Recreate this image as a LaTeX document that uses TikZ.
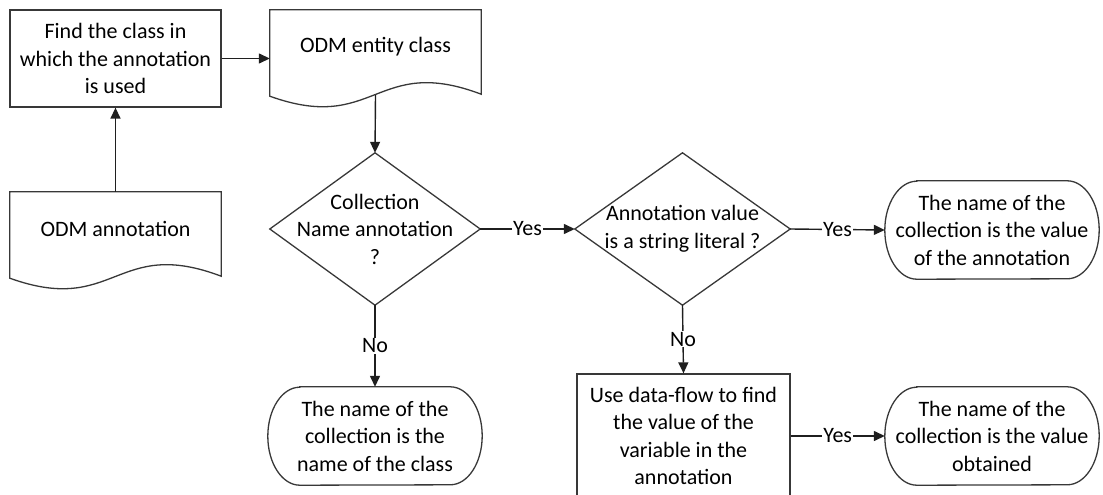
\documentclass[tikz,border=0pt]{standalone}
\usepackage{fontspec}
\setmainfont{Carlito}
\usetikzlibrary{calc,arrows.meta}
\newcommand\drawterm[1]{%
  \draw[shp] ($(#1.north west)+(32,0)$) -- ($(#1.north east)+(-32,0)$)
    arc[start angle=90,end angle=-90,x radius=32pt,y radius=49pt]
    -- ($(#1.south west)+(32,0)$)
    arc[start angle=270,end angle=90,x radius=32pt,y radius=49pt] -- cycle;}
\begin{document}
\begin{tikzpicture}[x=1pt,y=-1pt,
  font=\fontsize{22}{27.5}\selectfont,
  shp/.style={draw=black!78, line width=1.3pt},
  txt/.style={align=center, inner sep=0pt},
  procbox/.style={shp, txt, rectangle},
  area/.style={txt, rectangle},
  termbox/.style={area, minimum width=214pt, minimum height=98pt},
  arr/.style={draw=black!88, line width=1.4pt, -{Triangle[length=11pt,width=10pt]}},
  lbl/.style={fill=white, inner sep=1pt}]
\useasboundingbox (0,0) rectangle (1103,495);

% nodes
\node[procbox, minimum width=211pt, minimum height=97pt] (find) at (115.5,58.5) {Find the class in\\which the annotation\\is used};
\node[area, minimum width=211pt, minimum height=74pt] (ent) at (375.5,47) {ODM entity class};
\node[area, minimum width=211pt, minimum height=74pt] (ann) at (115.5,229) {ODM annotation};
\node[area, minimum width=210pt, minimum height=152pt] (d1) at (375,229) {Collection\\Name annotation\\?};
\node[area, minimum width=215pt, minimum height=152pt] (d2) at (682.5,229) {Annotation value\\is a string literal ?};
\node[termbox] (t1) at (992,230) {The name of the\\collection is the value\\of the annotation};
\node[termbox] (t2) at (375,436) {The name of the\\collection is the\\name of the class};
\node[procbox, minimum width=213pt, minimum height=124pt] (use) at (683.5,436) {Use data-flow to find\\the value of the\\variable in the\\annotation};
\node[termbox] (t3) at (992,436) {The name of the\\collection is the value\\obtained};

% document shapes
\draw[shp] (ent.north west) -- ($(ent.south west)+(0,12)$)
  .. controls ($(ent.south)+(0,50)$) and ($(ent.south)+(0,-30)$) .. ($(ent.south east)+(0,10)$)
  -- (ent.north east) -- cycle;
\coordinate (entb) at ($(ent.south)+(0,11)$);
\draw[shp] (ann.north west) -- ($(ann.south west)+(0,12)$)
  .. controls ($(ann.south)+(0,50)$) and ($(ann.south)+(0,-30)$) .. ($(ann.south east)+(0,10)$)
  -- (ann.north east) -- cycle;

% diamonds
\draw[shp] (d1.north) -- (d1.east) -- (d1.south) -- (d1.west) -- cycle;
\draw[shp] (d2.north) -- (d2.east) -- (d2.south) -- (d2.west) -- cycle;

% terminators
\drawterm{t1}
\drawterm{t2}
\drawterm{t3}

% connectors
\draw[arr] (ann.north) -- (find.south);
\draw[arr] (find.east) -- (find.east -| ent.west);
\draw[arr] (entb) -- (d1.north);
\draw[arr] (d1.east) -- node[lbl] {Yes} (d2.west);
\draw[arr] (d2.east) -- node[lbl] {Yes} (t1.west);
\draw[arr] (d1.south) -- node[lbl] {No} (t2.north);
\draw[arr] (d2.south) -- node[lbl] {No} (use.north);
\draw[arr] (use.east) -- node[lbl] {Yes} (use.east -| t3.west);
\end{tikzpicture}
\end{document}
